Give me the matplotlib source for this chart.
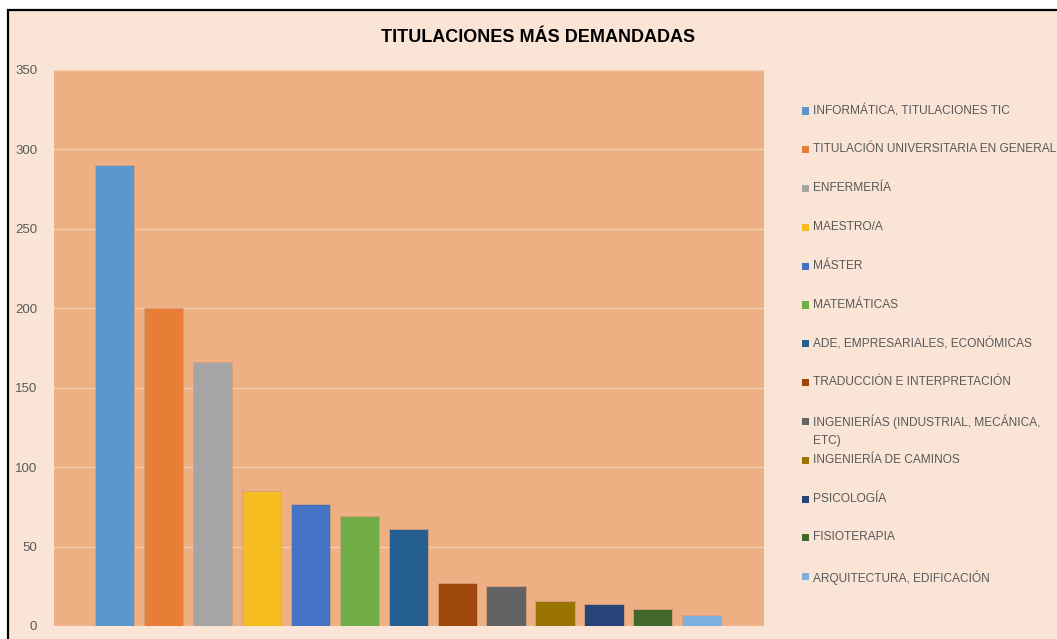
import matplotlib.pyplot as plt
from matplotlib.patches import Rectangle

categories = [
    "INFORMÁTICA, TITULACIONES TIC",
    "TITULACIÓN UNIVERSITARIA EN GENERAL",
    "ENFERMERÍA",
    "MAESTRO/A",
    "MÁSTER",
    "MATEMÁTICAS",
    "ADE, EMPRESARIALES, ECONÓMICAS",
    "TRADUCCIÓN E INTERPRETACIÓN",
    "INGENIERÍAS (INDUSTRIAL, MECÁNICA,\nETC)",
    "INGENIERÍA DE CAMINOS",
    "PSICOLOGÍA",
    "FISIOTERAPIA",
    "ARQUITECTURA, EDIFICACIÓN",
]
values = [290, 200, 166, 85, 77, 69, 61, 27, 25, 16, 14, 11, 7]
colors = ["#5B96CC", "#E87D36", "#A5A5A5", "#F5BD1F", "#4472C4", "#70AD47",
          "#255E91", "#9E480E", "#636363", "#997300", "#264478", "#43682B",
          "#7CAFDD"]
yticks = [0, 50, 100, 150, 200, 250, 300, 350]

BG = "#F9E4D6"
PLOT_BG = "#EEAF83"
TEXT = "#595959"

plt.rcParams["font.family"] = ["Liberation Sans", "DejaVu Sans"]

fig = plt.figure(figsize=(10.57, 6.39), dpi=100)
fig.patch.set_facecolor("white")

# page background with black frame
fig.patches.append(Rectangle((8 / 1057, -0.05), 1.2, (639 - 10) / 639 + 0.05,
                             transform=fig.transFigure, facecolor=BG,
                             edgecolor="black", linewidth=1.6, zorder=-5))

ax = fig.add_axes([54 / 1057, 13 / 639, 710 / 1057, 556 / 639])
ax.set_zorder(2)
ax.set_facecolor(PLOT_BG)
x = list(range(len(values)))
ax.bar(x, values, width=0.8, color=colors, edgecolor="#D9A07A",
       linewidth=0.6, zorder=3)
ax.set_ylim(0, 350)
ax.set_xlim(-1.235, 13.27)
ax.set_yticks(yticks)
ax.set_yticklabels([str(v) for v in yticks], color=TEXT, fontsize=9.5)
ax.set_xticks([])
ax.tick_params(axis="y", length=0, pad=12)
ax.yaxis.grid(True, color="#F5CFB4", linewidth=1, zorder=0)
ax.set_axisbelow(True)
for s in ax.spines.values():
    s.set_visible(False)

fig.text(538 / 1057, 1 - 38 / 639, "TITULACIONES MÁS DEMANDADAS",
         ha="center", va="center", fontsize=13, fontweight="bold",
         color="black")

# legend, fixed slot spacing like the spreadsheet export
y0, step = 111, 38.8
for i, (lab, c) in enumerate(zip(categories, colors)):
    yp = y0 + i * step
    fig.patches.append(Rectangle((802 / 1057, 1 - (yp + 3.5) / 639),
                                 7 / 1057, 7 / 639, transform=fig.transFigure,
                                 facecolor=c, edgecolor="none", zorder=3))
    fig.text(813 / 1057, 1 - (yp - 6.5) / 639, lab, ha="left", va="top",
             fontsize=8.6, color=TEXT, linespacing=1.6)

fig.savefig("out.png", dpi=100, facecolor=fig.get_facecolor())
